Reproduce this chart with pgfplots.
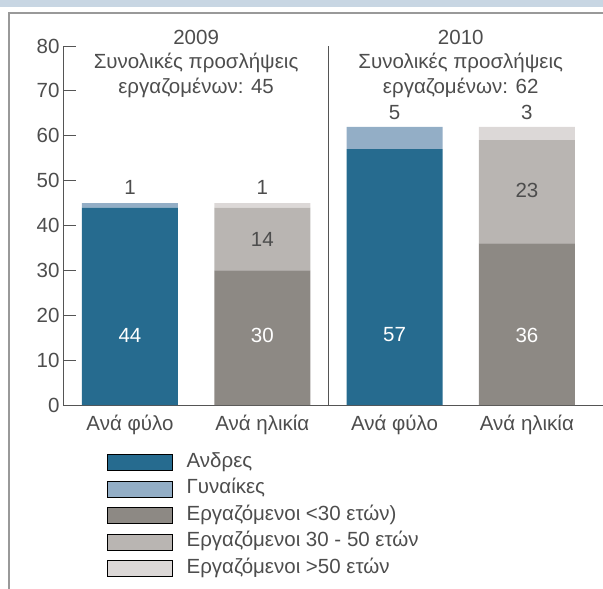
\documentclass[border=0pt]{standalone}
\usepackage{pgfplots}
\pgfplotsset{compat=1.18}
\usepackage{fontspec}
\setmainfont{Liberation Sans}
\definecolor{men}{HTML}{266B8F}
\definecolor{women}{HTML}{93AEC6}
\definecolor{young}{HTML}{8D8984}
\definecolor{mid}{HTML}{B9B5B2}
\definecolor{old}{HTML}{DCD8D7}
\definecolor{txt}{HTML}{4D4D4D}
\definecolor{band}{HTML}{C8D6E3}
\definecolor{frame}{HTML}{999999}
\definecolor{axisc}{HTML}{555555}
\newcommand{\myf}{\fontsize{20.5}{20.5}\selectfont}
\tikzset{lab/.style={font=\myf, text=txt}}
\begin{document}
\begin{tikzpicture}
\useasboundingbox (0pt,0pt) rectangle (603pt,-589pt);
\fill[band] (0pt,0pt) rectangle (603pt,-7pt);
\draw[frame, line width=1.5pt] (9pt,-589pt) -- (9pt,-13pt) -- (603pt,-13pt);
\begin{axis}[
  at={(63pt,-405pt)}, anchor=south west,
  scale only axis, width=540pt, height=359pt,
  xmin=-0.506, xmax=3.575, ymin=0, ymax=80,
  axis x line=bottom, axis y line=left,
  axis line style={-, draw=axisc, line width=0.8pt},
  ytick={0,10,...,80},
  tick align=inside, major tick length=13pt,
  ytick style={draw=axisc, line width=0.8pt},
  xtick={0,1,2,3},
  xticklabels={Ανά φύλο, Ανά ηλικία, Ανά φύλο, Ανά ηλικία},
  xtick style={draw=none},
  ticklabel style={font=\myf, text=txt},
  xticklabel style={yshift=-7pt},
  /pgf/number format/assume math mode=true,
  ybar stacked, bar width=96pt,
  area legend,
  legend image post style={xscale=3.81, yscale=2.81, draw=none},
  clip=false,
  legend style={at={(axis description cs:0.0815,-0.134)}, anchor=north west,
    draw=none, fill=none, inner sep=0pt, row sep=8.5pt, column sep=14pt,
    font=\myf, text=txt,
    nodes={inner sep=0pt, text height=14pt, text depth=4pt}},
  legend cell align=left,
]
\addplot[fill=men, draw=none] coordinates {(0,44) (1,0) (2,57) (3,0)};
\addplot[fill=women, draw=none] coordinates {(0,1) (1,0) (2,5) (3,0)};
\addplot[fill=young, draw=none] coordinates {(0,0) (1,30) (2,0) (3,36)};
\addplot[fill=mid, draw=none] coordinates {(0,0) (1,14) (2,0) (3,23)};
\addplot[fill=old, draw=none] coordinates {(0,0) (1,1) (2,0) (3,3)};
\legend{Ανδρες, Γυναίκες, Εργαζόμενοι <30 ετών), Εργαζόμενοι 30 - 50 ετών, Εργαζόμενοι >50 ετών}
\draw[axisc, line width=0.8pt] (axis cs:1.5,0) -- (axis cs:1.5,80);
\node[lab] at (axis cs:0.5,82.0) {2009};
\node[lab] at (axis cs:0.5,76.2) {Συνολικές προσλήψεις};
\node[lab] at (axis cs:0.5,70.6) {εργαζομένων: 45};
\node[lab] at (axis cs:2.5,82.0) {2010};
\node[lab] at (axis cs:2.5,76.2) {Συνολικές προσλήψεις};
\node[lab] at (axis cs:2.5,70.6) {εργαζομένων: 62};
\node[lab] at (axis cs:0,48.4) {1};
\node[lab] at (axis cs:1,48.4) {1};
\node[lab] at (axis cs:2,65.1) {5};
\node[lab] at (axis cs:3,65.1) {3};
\coordinate (l14) at (axis cs:1,36.8);
\coordinate (l23) at (axis cs:3,47.9);
\coordinate (l44) at (axis cs:0,15.6);
\coordinate (l30) at (axis cs:1,15.6);
\coordinate (l57) at (axis cs:2,15.6);
\coordinate (l36) at (axis cs:3,15.6);
\end{axis}
\node[lab] at (l14) {14};
\node[lab] at (l23) {23};
\node[lab, text=white] at (l44) {44};
\node[lab, text=white] at (l30) {30};
\node[lab, text=white] at (l57) {57};
\node[lab, text=white] at (l36) {36};
\end{tikzpicture}
\end{document}
